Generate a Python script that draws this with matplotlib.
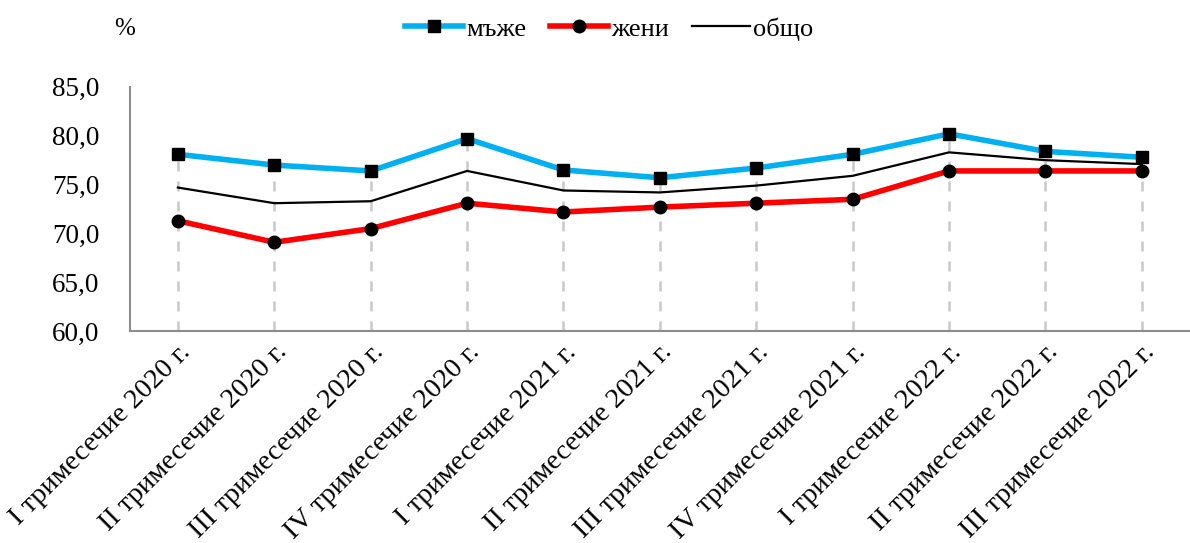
import numpy as np
import matplotlib
matplotlib.use("Agg")
import matplotlib.pyplot as plt

plt.rcParams['font.family'] = ['Liberation Serif', 'DejaVu Serif']

# данни
categories = ["I тримесечие 2020 г.", "II тримесечие 2020 г.", "III тримесечие 2020 г.",
              "IV тримесечие 2020 г.", "I тримесечие 2021 г.", "II тримесечие 2021 г.",
              "III тримесечие 2021 г.", "IV тримесечие 2021 г.", "I тримесечие 2022 г.",
              "II тримесечие 2022 г.", "III тримесечие 2022 г."]
men = [78.1, 77.0, 76.4, 79.7, 76.5, 75.7, 76.7, 78.1, 80.2, 78.4, 77.8]
women = [71.3, 69.1, 70.5, 73.1, 72.2, 72.7, 73.1, 73.5, 76.4, 76.4, 76.4]
total = [74.7, 73.1, 73.3, 76.4, 74.4, 74.2, 74.9, 75.9, 78.3, 77.5, 77.1]
yticks = [60, 65, 70, 75, 80, 85]

x = np.arange(len(categories))

fig = plt.figure(figsize=(11.9, 5.43), dpi=100)
ax = fig.add_axes([0.109, 0.39, 0.891, 0.45])

# вертикални пунктирни линии
tops = np.maximum(np.maximum(men, women), total)
ax.vlines(x, 60, tops, colors='#c8c8c8', linestyles=(0, (4, 4)), linewidth=1.8, zorder=1)

ax.plot(x, total, color='black', linewidth=1.6, label='общо', zorder=3)
ax.plot(x, women, color='#ff0000', linewidth=4, marker='o', markersize=9,
        markerfacecolor='black', markeredgecolor='black', label='жени', zorder=4)
ax.plot(x, men, color='#00b0f0', linewidth=4, marker='s', markersize=9,
        markerfacecolor='black', markeredgecolor='black', label='мъже', zorder=5)

ax.set_xlim(-0.5, len(categories) - 0.5)
ax.set_ylim(60, 85)
ax.set_yticks(yticks)
ax.set_yticklabels([f"{v:.1f}".replace('.', ',') for v in yticks], fontsize=19.5)
ax.set_xticks(x)
ax.set_xticklabels(categories, rotation=45, ha='right', va='top',
                   rotation_mode='anchor', fontsize=20.5)
ax.tick_params(axis='both', length=0)
ax.tick_params(axis='y', pad=22)
ax.tick_params(axis='x', pad=6)

for s in ['top', 'right']:
    ax.spines[s].set_visible(False)
for s in ['left', 'bottom']:
    ax.spines[s].set_color('#8c8c8c')
    ax.spines[s].set_linewidth(1.5)

handles, labels = ax.get_legend_handles_labels()
order = [2, 1, 0]
fig.legend([handles[i] for i in order], [labels[i] for i in order],
           loc='center', bbox_to_anchor=(0.512, 0.947), ncol=3, frameon=False,
           fontsize=19, handlelength=2.2, handletextpad=0.1, columnspacing=0.9)

fig.text(0.105, 0.947, '%', fontsize=18, ha='center', va='center')

fig.savefig('out.png', dpi=100)
